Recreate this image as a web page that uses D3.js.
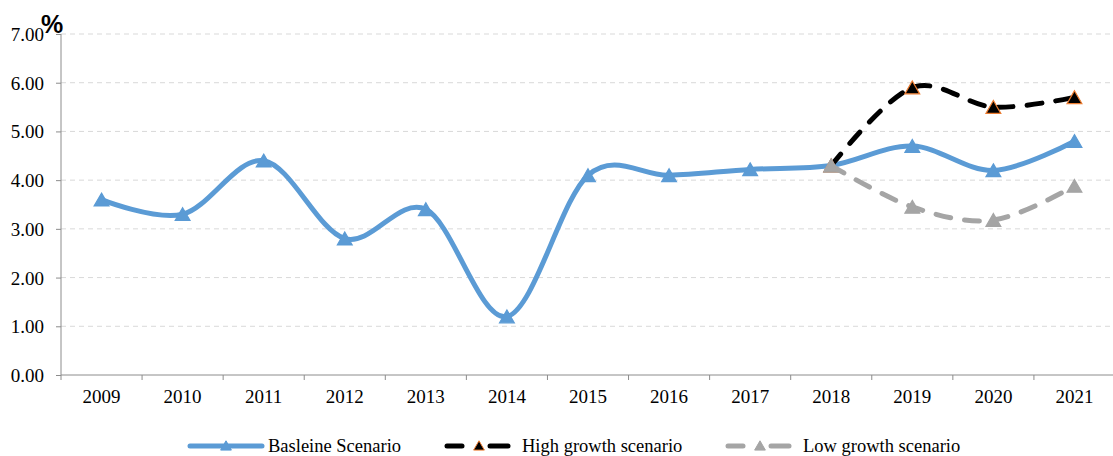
<!DOCTYPE html>
<html lang="en">
<head>
<meta charset="utf-8">
<style>
  html, body { margin:0; padding:0; background:#fff; overflow:hidden }
  svg { display:block }
  .tick text, .lbl { font-family: "Liberation Serif", "Times New Roman", serif; font-size: 19px; fill:#000; }
</style>
</head>
<body>
<svg width="1113" height="456"></svg>
<script src="https://cdn.jsdelivr.net/npm/d3@7"></script>
<script>
    var years = ["2009","2010","2011","2012","2013","2014","2015","2016","2017","2018","2019","2020","2021"];
    var baseline = [3.6, 3.3, 4.4, 2.8, 3.4, 1.2, 4.1, 4.1, 4.22, 4.3, 4.7, 4.2, 4.8];
    var highYears = ["2018","2019","2020","2021"];
    var highGrowth = [4.3, 5.9, 5.5, 5.7];
    var lowYears = ["2018","2019","2020","2021"];
    var lowGrowth = [4.3, 3.45, 3.18, 3.88];
    var yTicks = [0, 1, 2, 3, 4, 5, 6, 7];

    var svg = d3.select("svg"),
        pLeft = 61, pRight = 1115, pTop = 34, pBottom = 375;

    var x = d3.scaleBand().domain(years).range([pLeft, pRight]);
    var y = d3.scaleLinear().domain([0, 7]).range([pBottom, pTop]);

    // grid
    svg.append("g").selectAll("line")
        .data(yTicks.filter(function (d) { return d > 0; }))
        .enter().append("line")
        .attr("x1", pLeft).attr("x2", pRight)
        .attr("y1", function (d) { return y(d); })
        .attr("y2", function (d) { return y(d); })
        .attr("stroke", "#d9d9d9")
        .attr("stroke-width", 1)
        .attr("stroke-dasharray", "5,4");

    // y axis
    var yAxis = svg.append("g")
        .attr("transform", "translate(" + pLeft + ",0)")
        .call(d3.axisLeft(y).tickValues(yTicks).tickSize(5).tickPadding(12)
            .tickFormat(d3.format(".2f")));
    yAxis.selectAll("path, line").attr("stroke", "#8c8c8c");
    yAxis.select(".domain").attr("d", "M0," + pTop + "V" + pBottom);
    yAxis.selectAll("text").attr("class", "lbl").attr("dy", "0.34em");

    // x axis with ticks at category boundaries
    var xAxis = svg.append("g")
        .attr("transform", "translate(0," + pBottom + ")");
    xAxis.append("line")
        .attr("x1", pLeft).attr("x2", pRight)
        .attr("stroke", "#8c8c8c");
    xAxis.selectAll(".bt")
        .data(years)
        .enter().append("line")
        .attr("x1", function (d) { return x(d); })
        .attr("x2", function (d) { return x(d); })
        .attr("y1", 0).attr("y2", 5)
        .attr("stroke", "#8c8c8c");
    xAxis.selectAll("text")
        .data(years)
        .enter().append("text")
        .attr("class", "lbl")
        .attr("x", function (d) { return x(d) + x.bandwidth() / 2; })
        .attr("y", 28)
        .attr("text-anchor", "middle")
        .text(function (d) { return d; });

    svg.append("text")
        .attr("x", 41).attr("y", 33)
        .style("font-family", "'Liberation Sans', Arial, sans-serif")
        .style("font-weight", "bold")
        .style("font-size", "25px")
        .text("%");

    var cx = function (d) { return x(d) + x.bandwidth() / 2; };
    var line = d3.line()
        .x(function (d) { return cx(d[0]); })
        .y(function (d) { return y(d[1]); })
        .curve(d3.curveCardinal.tension(0));

    var tri = d3.symbol().type(d3.symbolTriangle).size(95);

    function series(cats, vals, color, dash, mFill, mStroke) {
        var pts = cats.map(function (c, i) { return [c, vals[i]]; });
        svg.append("path")
            .datum(pts)
            .attr("d", line)
            .attr("fill", "none")
            .attr("stroke", color)
            .attr("stroke-width", 5)
            .attr("stroke-linecap", "round")
            .attr("stroke-dasharray", dash);
        svg.append("g").selectAll("path")
            .data(pts)
            .enter().append("path")
            .attr("d", tri)
            .attr("transform", function (d) { return "translate(" + cx(d[0]) + "," + (y(d[1]) + 2) + ")"; })
            .attr("fill", mFill)
            .attr("stroke", mStroke)
            .attr("stroke-width", 1.2);
    }

    series(years, baseline, "#5b9bd5", null, "#5b9bd5", "#5b9bd5");
    series(highYears, highGrowth, "#000", "15,14", "#000", "#ed7d31");
    series(lowYears, lowGrowth, "#a5a5a5", "15,14", "#a5a5a5", "#a5a5a5");

    // legend
    var legend = [
        {name: "Basleine Scenario", color: "#5b9bd5", segs: [[0, 72]], mx: 36, mStroke: "#5b9bd5", x0: 190, tx: 78},
        {name: "High growth scenario", color: "#000", segs: [[2, 17], [45, 63]], mx: 34, mStroke: "#ed7d31", x0: 445, tx: 77},
        {name: "Low growth scenario", color: "#a5a5a5", segs: [[2, 17], [45, 63]], mx: 34, mStroke: "#a5a5a5", x0: 726, tx: 77}
    ];
    var lg = svg.append("g").selectAll("g")
        .data(legend)
        .enter().append("g")
        .attr("transform", function (d) { return "translate(" + d.x0 + ",446)"; });
    lg.each(function (d) {
        d3.select(this).selectAll("line")
            .data(d.segs)
            .enter().append("line")
            .attr("x1", function (s) { return s[0]; })
            .attr("x2", function (s) { return s[1]; })
            .attr("stroke", d.color)
            .attr("stroke-width", 5)
            .attr("stroke-linecap", "round");
    });
    lg.append("path")
        .attr("d", d3.symbol().type(d3.symbolTriangle).size(50))
        .attr("transform", function (d) { return "translate(" + d.mx + ",1)"; })
        .attr("fill", function (d) { return d.color; })
        .attr("stroke", function (d) { return d.mStroke; })
        .attr("stroke-width", 1);
    lg.append("text")
        .attr("class", "lbl")
        .style("font-size", "18.5px")
        .attr("x", function (d) { return d.tx; }).attr("y", 6)
        .text(function (d) { return d.name; });
</script>
</body>
</html>
